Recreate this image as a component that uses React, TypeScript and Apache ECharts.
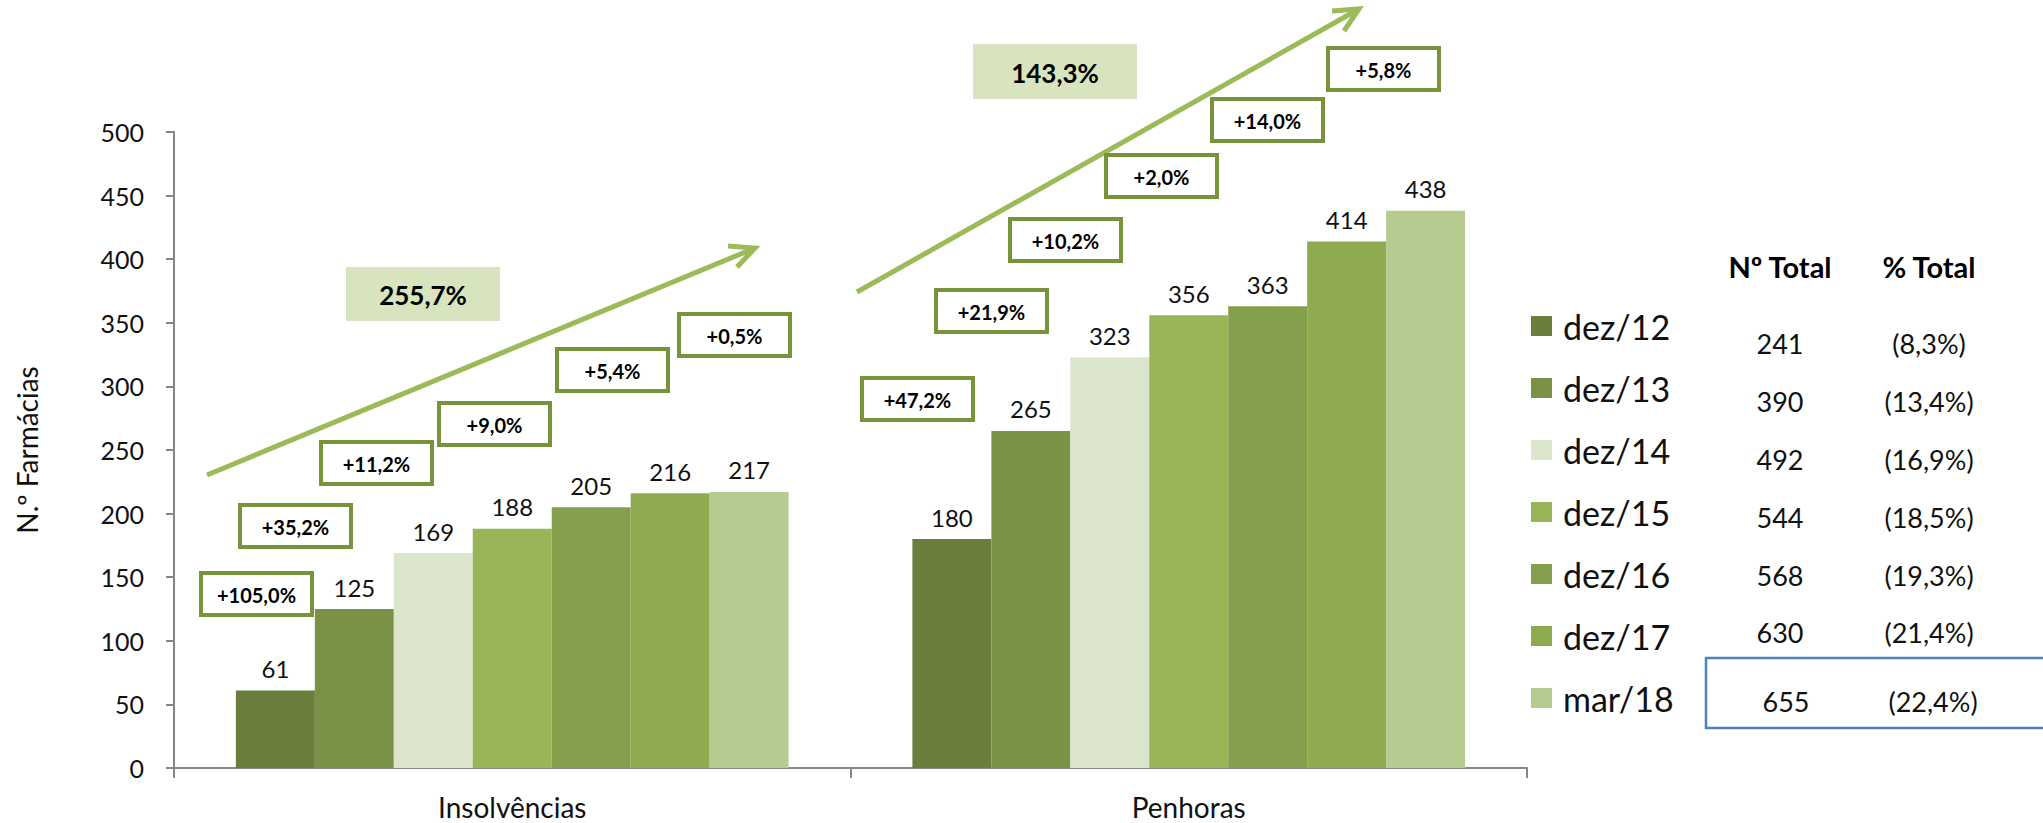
import React, { useEffect, useRef } from "react";
import * as echarts from "echarts";

// ---------- data ----------
const categories = ["Insolvências", "Penhoras"];
const seriesNames = ["dez/12", "dez/13", "dez/14", "dez/15", "dez/16", "dez/17", "mar/18"];
const dez12 = [61, 180];
const dez13 = [125, 265];
const dez14 = [169, 323];
const dez15 = [188, 356];
const dez16 = [205, 363];
const dez17 = [216, 414];
const mar18 = [217, 438];
const seriesValues = [dez12, dez13, dez14, dez15, dez16, dez17, mar18];

const yMax = 500;
const yInterval = 50;
const yAxisTitle = "N.º Farmácias";

const totalHeaders = ["Nº Total", "% Total"];
const totalsN = ["241", "390", "492", "544", "568", "630", "655"];
const totalsPct = ["(8,3%)", "(13,4%)", "(16,9%)", "(18,5%)", "(19,3%)", "(21,4%)", "(22,4%)"];

const growthInsolv = ["+105,0%", "+35,2%", "+11,2%", "+9,0%", "+5,4%", "+0,5%"];
const growthPenh = ["+47,2%", "+21,9%", "+10,2%", "+2,0%", "+14,0%", "+5,8%"];
const overallGrowth = ["255,7%", "143,3%"];

// ---------- styles / layout ----------
const FONT = "Lato, 'Open Sans', sans-serif";
const barColors = ["#6a7d3b", "#7a9245", "#dbe5cc", "#98b557", "#839f4b", "#8eab50", "#b6cb90"];
const axisColor = "#868686";
const textColor = "#111111";
const arrowColor = "#9bbb59";
const boxBorder = "#77933c";
const bigFill = "#d7e4bd";

const boxPosInsolv = [
  [199, 571], [238, 503], [319, 440], [437, 401], [555, 347], [677, 312],
];
const boxPosPenh = [
  [860, 376], [934, 288], [1008, 217], [1104, 153], [1210, 97], [1326, 46],
];
const boxW = 115;
const boxH = 46;
const bigBoxes = [
  [346, 267, 154, 54],
  [973, 44, 164, 55],
];
const arrows = [
  { from: [207, 475], to: [755, 248], arm1: [728, 246], arm2: [737, 267] },
  { from: [857, 292], to: [1359, 9], arm1: [1332, 11], arm2: [1344, 31] },
];
const tableColX = [1780, 1929];
const lastRowColX = [1786, 1933];
const tableHeaderY = 266;
const tableRowY = [343, 401, 459, 517, 575, 632, 701];

function buildGraphics() {
  const g: any[] = [];
  // arrows
  arrows.forEach((a) => {
    g.push({
      type: "line",
      shape: { x1: a.from[0], y1: a.from[1], x2: a.to[0], y2: a.to[1] },
      style: { stroke: arrowColor, lineWidth: 5 },
      silent: true,
    });
    g.push({
      type: "polyline",
      shape: { points: [a.arm1, a.to, a.arm2] },
      style: { stroke: arrowColor, lineWidth: 5, fill: null, lineJoin: "miter" },
      silent: true,
    });
  });
  // big growth boxes
  bigBoxes.forEach((b, i) => {
    g.push({
      type: "rect",
      shape: { x: b[0], y: b[1], width: b[2], height: b[3] },
      style: { fill: bigFill },
      silent: true,
    });
    g.push({
      type: "text",
      x: b[0] + b[2] / 2,
      y: b[1] + b[3] / 2 + 1,
      style: {
        text: overallGrowth[i],
        fontFamily: FONT,
        fontWeight: "bold",
        fontSize: 26,
        fill: "#000",
        align: "center",
        verticalAlign: "middle",
      },
      silent: true,
    });
  });
  // small growth boxes
  const addBoxes = (pos: number[][], labels: string[]) => {
    pos.forEach((p, i) => {
      g.push({
        type: "rect",
        shape: { x: p[0] + 2, y: p[1] + 2, width: boxW - 4, height: boxH - 4 },
        style: { fill: "#ffffff", stroke: boxBorder, lineWidth: 4 },
        silent: true,
      });
      g.push({
        type: "text",
        x: p[0] + boxW / 2,
        y: p[1] + boxH / 2 + 1,
        style: {
          text: labels[i],
          fontFamily: FONT,
          fontWeight: "bold",
          fontSize: 20,
          fill: "#000",
          align: "center",
          verticalAlign: "middle",
        },
        silent: true,
      });
    });
  };
  addBoxes(boxPosInsolv, growthInsolv);
  addBoxes(boxPosPenh, growthPenh);

  // totals table
  totalHeaders.forEach((h, i) => {
    g.push({
      type: "text",
      x: tableColX[i],
      y: tableHeaderY,
      style: {
        text: h,
        fontFamily: FONT,
        fontWeight: "bold",
        fontSize: 29,
        fill: "#000",
        align: "center",
        verticalAlign: "middle",
      },
      silent: true,
    });
  });
  totalsN.forEach((v, r) => {
    const last = r === totalsN.length - 1;
    [v, totalsPct[r]].forEach((t, c) => {
      g.push({
        type: "text",
        x: last ? lastRowColX[c] : tableColX[c],
        y: tableRowY[r],
        style: {
          text: t,
          fontFamily: FONT,
          fontSize: 27,
          fill: textColor,
          align: "center",
          verticalAlign: "middle",
        },
        silent: true,
      });
    });
  });
  // highlight box round last row
  g.push({
    type: "rect",
    shape: { x: 1706, y: 658, width: 360, height: 70 },
    style: { fill: null, stroke: "#4f81bd", lineWidth: 2.5 },
    silent: true,
  });
  return g;
}

export default function App() {
  const ref = useRef<HTMLDivElement>(null);
  useEffect(() => {
    if (!ref.current) return;
    const chart = echarts.init(ref.current, null, { renderer: "svg" });
    chart.setOption({
      animation: false,
      backgroundColor: "#ffffff",
      textStyle: { fontFamily: FONT },
      grid: { left: 174, right: 516, top: 132, bottom: 55, containLabel: false },
      legend: {
        orient: "vertical",
        left: 1531,
        top: 306,
        padding: 0,
        itemWidth: 21,
        itemHeight: 20,
        itemGap: 22,
        icon: "rect",
        data: seriesNames,
        textStyle: {
          fontFamily: FONT,
          fontSize: 34,
          lineHeight: 40,
          color: textColor,
          padding: [0, 0, 0, 6],
        },
      },
      xAxis: {
        type: "category",
        data: categories,
        axisLine: { lineStyle: { color: axisColor, width: 2 } },
        axisTick: { show: true, length: 10, lineStyle: { color: axisColor, width: 2 } },
        axisLabel: { fontFamily: FONT, fontSize: 28, color: textColor, margin: 25 },
      },
      yAxis: {
        type: "value",
        min: 0,
        max: yMax,
        interval: yInterval,
        name: yAxisTitle,
        nameLocation: "middle",
        nameGap: 133,
        nameTextStyle: { fontFamily: FONT, fontSize: 28, color: textColor },
        axisLine: { show: true, lineStyle: { color: axisColor, width: 2 } },
        axisTick: { show: true, length: 8, lineStyle: { color: axisColor, width: 2 } },
        splitLine: { show: false },
        axisLabel: { fontFamily: FONT, fontSize: 25, color: textColor, margin: 30 },
      },
      series: seriesNames.map((name, i) => ({
        name,
        type: "bar",
        data: seriesValues[i],
        barGap: "0%",
        barCategoryGap: "18.3%",
        itemStyle: { color: barColors[i] },
        label: {
          show: true,
          position: "top",
          distance: 10,
          fontFamily: FONT,
          fontSize: 24,
          color: textColor,
        },
      })),
      graphic: buildGraphics(),
    });
    return () => chart.dispose();
  }, []);
  return (
    <div
      ref={ref}
      style={{ position: "absolute", left: 0, top: 0, width: 2043, height: 823 }}
    />
  );
}
